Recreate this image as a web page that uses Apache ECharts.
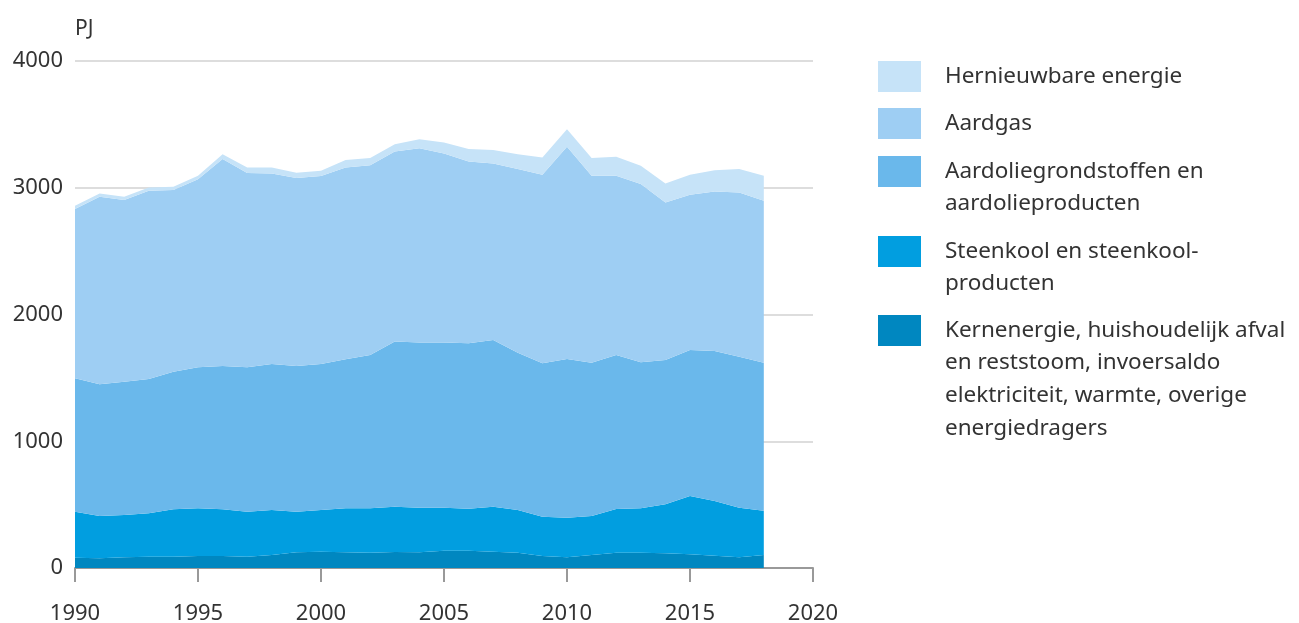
<!DOCTYPE html>
<html>
<head>
<meta charset="utf-8">
<script src="https://cdn.jsdelivr.net/npm/echarts@6/dist/echarts.min.js"></script>
<style>
html,body{margin:0;padding:0;background:#fff;}
#chart{width:1299px;height:623px;}
</style>
</head>
<body>
<div id="chart"></div>
<script>
var axisYears = [1990,1991,1992,1993,1994,1995,1996,1997,1998,1999,2000,2001,2002,2003,2004,2005,2006,2007,2008,2009,2010,2011,2012,2013,2014,2015,2016,2017,2018,2019,2020];
var kernenergie = [81,76,84,89,89,95,95,89,103,124,129,124,121,126,124,136,137,129,121,95,84,103,121,121,116,108,97,84,103];
var steenkool = [363,334,334,342,374,376,368,355,355,320,329,347,350,358,352,339,331,355,337,310,313,307,344,350,386,460,432,392,349];
var aardolie = [1053,1039,1052,1060,1086,1112,1131,1139,1151,1150,1151,1175,1209,1302,1304,1305,1305,1315,1241,1210,1252,1210,1215,1152,1139,1152,1183,1191,1168];
var aardgas = [1335,1480,1433,1485,1433,1485,1632,1533,1504,1482,1483,1514,1498,1500,1532,1490,1434,1392,1448,1487,1674,1474,1414,1406,1243,1225,1259,1296,1278];
var hernieuwbaar = [26,26,26,26,26,26,39,44,47,42,42,58,56,58,71,87,98,106,118,137,139,140,150,144,150,157,168,184,196];

var seriesNames = [
  'Kernenergie, huishoudelijk afval\nen reststoom, invoersaldo\nelektriciteit, warmte, overige\nenergiedragers',
  'Steenkool en steenkool-\nproducten',
  'Aardoliegrondstoffen en\naardolieproducten',
  'Aardgas',
  'Hernieuwbare energie'
];
var seriesData = [kernenergie, steenkool, aardolie, aardgas, hernieuwbaar];
var colors = ['#0087c0', '#019ee0', '#6ab8eb', '#9ecef3', '#c6e3f8'];

var FONT = 'Noto Sans';
var TXT = '#333333';

var series = seriesData.map(function (arr, i) {
  return {
    name: seriesNames[i],
    type: 'line',
    stack: 'total',
    data: arr.slice(),
    showSymbol: false,
    symbol: 'none',
    lineStyle: { width: 0 },
    areaStyle: { color: colors[i], opacity: 1 },
    itemStyle: { color: colors[i] },
    z: 2
  };
});

var legendOrder = [4, 3, 2, 1, 0];
var legendRectTop = [61, 108, 156, 236, 315];
var graphics = [];
legendOrder.forEach(function (si, j) {
  graphics.push({
    type: 'rect',
    left: 878, top: legendRectTop[j],
    shape: { width: 43, height: 31 },
    style: { fill: colors[si] }
  });
  graphics.push({
    type: 'text',
    left: 945, top: legendRectTop[j] - 1,
    style: {
      text: seriesNames[si],
      font: '22.5px "' + FONT + '"',
      fill: TXT,
      lineHeight: 32.7,
      verticalAlign: 'top'
    }
  });
});

var chart = echarts.init(document.getElementById('chart'), null, { renderer: 'canvas' });
chart.setOption({
  animation: false,
  backgroundColor: '#ffffff',
  textStyle: { fontFamily: FONT, color: TXT },
  grid: { left: 75, right: 486, top: 61, bottom: 55, containLabel: false, outerBoundsMode: 'none' },
  legend: { show: false },
  xAxis: {
    type: 'category',
    data: axisYears.map(String),
    boundaryGap: false,
    axisLine: { show: true, lineStyle: { color: '#999999', width: 2 } },
    axisTick: { show: true, interval: 4, length: 14, lineStyle: { color: '#999999', width: 2 } },
    axisLabel: { interval: 4, margin: 35, fontSize: 22, color: TXT, fontFamily: FONT },
    splitLine: { show: false }
  },
  yAxis: {
    type: 'value',
    min: 0, max: 4000, interval: 1000,
    name: 'PJ',
    nameLocation: 'end',
    nameGap: 21,
    nameTextStyle: { fontSize: 21, color: TXT, fontFamily: FONT, align: 'left', verticalAlign: 'bottom' },
    axisLine: { show: false },
    axisTick: { show: false },
    axisLabel: { margin: 12, fontSize: 22, color: TXT, fontFamily: FONT, formatter: function (v) { return String(v); } },
    splitLine: { show: true, lineStyle: { color: '#dddddd', width: 2 } }
  },
  series: series,
  graphic: graphics
});
</script>
</body>
</html>
